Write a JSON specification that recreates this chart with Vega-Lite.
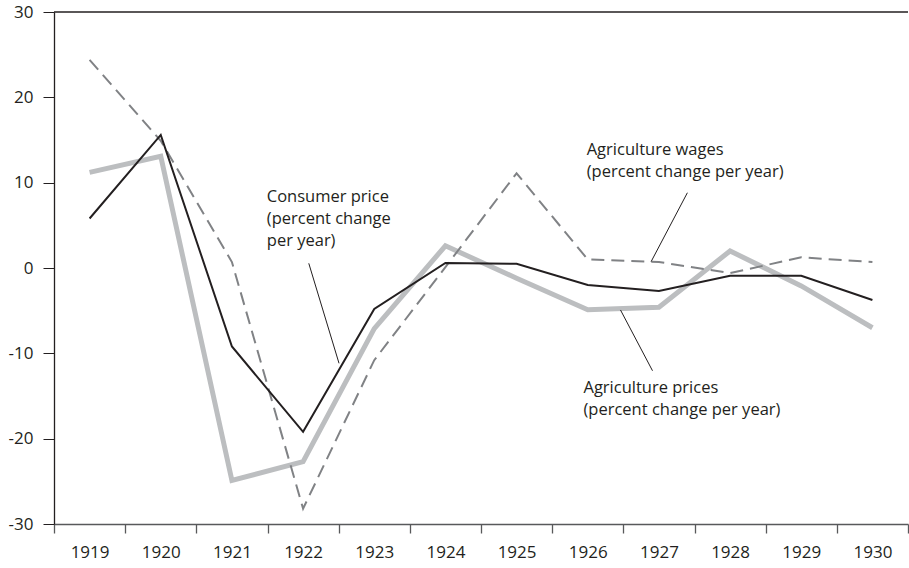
{
  "$schema": "https://vega.github.io/schema/vega-lite/v6.json",
  "autosize": {"type": "none"},
  "width": 854,
  "height": 512,
  "padding": {"left": 54, "top": 12, "right": 1, "bottom": 44},
  "background": "white",
  "config": {
    "view": {"stroke": null},
    "axis": {"labelFont": "Open Sans", "labelFontSize": 17, "labelColor": "#231f20", "domainColor": "#231f20", "tickColor": "#231f20", "grid": false, "title": null}
  },
  "datasets": {
    "series": [
      {"year": 1919, "series": "consumer", "value": 5.8},
      {"year": 1920, "series": "consumer", "value": 15.6},
      {"year": 1921, "series": "consumer", "value": -9.2},
      {"year": 1922, "series": "consumer", "value": -19.2},
      {"year": 1923, "series": "consumer", "value": -4.8},
      {"year": 1924, "series": "consumer", "value": 0.6},
      {"year": 1925, "series": "consumer", "value": 0.5},
      {"year": 1926, "series": "consumer", "value": -2.0},
      {"year": 1927, "series": "consumer", "value": -2.7},
      {"year": 1928, "series": "consumer", "value": -0.9},
      {"year": 1929, "series": "consumer", "value": -0.9},
      {"year": 1930, "series": "consumer", "value": -3.75},
      {"year": 1919, "series": "prices", "value": 11.2},
      {"year": 1920, "series": "prices", "value": 13.1},
      {"year": 1921, "series": "prices", "value": -24.9},
      {"year": 1922, "series": "prices", "value": -22.7},
      {"year": 1923, "series": "prices", "value": -7.1},
      {"year": 1924, "series": "prices", "value": 2.6},
      {"year": 1925, "series": "prices", "value": -1.2},
      {"year": 1926, "series": "prices", "value": -4.9},
      {"year": 1927, "series": "prices", "value": -4.6},
      {"year": 1928, "series": "prices", "value": 2.0},
      {"year": 1929, "series": "prices", "value": -2.1},
      {"year": 1930, "series": "prices", "value": -7.0},
      {"year": 1919, "series": "wages", "value": 24.4},
      {"year": 1920, "series": "wages", "value": 14.9},
      {"year": 1921, "series": "wages", "value": 0.7},
      {"year": 1922, "series": "wages", "value": -28.2},
      {"year": 1923, "series": "wages", "value": -10.8},
      {"year": 1924, "series": "wages", "value": 0.1},
      {"year": 1925, "series": "wages", "value": 11.1},
      {"year": 1926, "series": "wages", "value": 1.0},
      {"year": 1927, "series": "wages", "value": 0.7},
      {"year": 1928, "series": "wages", "value": -0.6},
      {"year": 1929, "series": "wages", "value": 1.25},
      {"year": 1930, "series": "wages", "value": 0.7}
    ],
    "labels": [
      {"x": 1921.49, "y": 7.79, "label": ["Consumer price", "(percent change", "per year)"]},
      {"x": 1925.985, "y": 13.24, "label": ["Agriculture wages", "(percent change per year)"]},
      {"x": 1925.94, "y": -14.68, "label": ["Agriculture prices", "(percent change per year)"]}
    ],
    "pointers": [
      {"x": 1922.08, "y": 0.55, "x2": 1922.505, "y2": -11.17},
      {"x": 1927.40, "y": 8.82, "x2": 1926.89, "y2": 0.74},
      {"x": 1926.46, "y": -4.92, "x2": 1926.91, "y2": -12.04}
    ],
    "frame": [{"top": 30}],
    "bounds": [
      {"b": 1918.5}, {"b": 1919.5}, {"b": 1920.5}, {"b": 1921.5}, {"b": 1922.5}, {"b": 1923.5}, {"b": 1924.5}, {"b": 1925.5}, {"b": 1926.5}, {"b": 1927.5}, {"b": 1928.5}, {"b": 1929.5}, {"b": 1930.5}
    ]
  },
  "layer": [
    {
      "data": {"name": "series"},
      "transform": [{"filter": "datum.series == 'prices'"}],
      "mark": {"type": "line", "color": "#bcbec0", "strokeWidth": 5, "strokeJoin": "miter"},
      "encoding": {
        "x": {"field": "year", "type": "quantitative", "scale": {"domain": [1918.5, 1930.5], "nice": false, "zero": false},
          "axis": {"orient": "bottom", "values": [1919, 1920, 1921, 1922, 1923, 1924, 1925, 1926, 1927, 1928, 1929, 1930], "format": "d", "ticks": false, "labelPadding": 20, "domainColor": "#58595b", "domainWidth": 1.5}},
        "y": {"field": "value", "type": "quantitative", "scale": {"domain": [-30, 30], "nice": false},
          "axis": {"values": [-30, -20, -10, 0, 10, 20, 30], "labelExpr": "'' + datum.value", "tickSize": 11, "labelPadding": 10, "domainWidth": 1.3}}
      }
    },
    {
      "data": {"name": "series"},
      "transform": [{"filter": "datum.series == 'wages'"}],
      "mark": {"type": "line", "color": "#808285", "strokeWidth": 2, "strokeDash": [13, 7]},
      "encoding": {
        "x": {"field": "year", "type": "quantitative", "axis": null},
        "y": {"field": "value", "type": "quantitative"}
      }
    },
    {
      "data": {"name": "series"},
      "transform": [{"filter": "datum.series == 'consumer'"}],
      "mark": {"type": "line", "color": "#231f20", "strokeWidth": 2},
      "encoding": {
        "x": {"field": "year", "type": "quantitative", "axis": null},
        "y": {"field": "value", "type": "quantitative"}
      }
    },
    {
      "data": {"name": "pointers"},
      "mark": {"type": "rule", "color": "#231f20", "strokeWidth": 1},
      "encoding": {
        "x": {"field": "x", "type": "quantitative", "axis": null},
        "y": {"field": "y", "type": "quantitative"},
        "x2": {"field": "x2"},
        "y2": {"field": "y2"}
      }
    },
    {
      "data": {"name": "labels"},
      "mark": {"type": "text", "align": "left", "baseline": "alphabetic", "font": "Open Sans", "fontSize": 16.5, "lineHeight": 22, "color": "#231f20"},
      "encoding": {
        "x": {"field": "x", "type": "quantitative", "axis": null},
        "y": {"field": "y", "type": "quantitative"},
        "text": {"field": "label"}
      }
    },
    {
      "data": {"name": "frame"},
      "mark": {"type": "rule", "color": "#231f20", "strokeWidth": 1.3},
      "encoding": {
        "y": {"field": "top", "type": "quantitative"}
      }
    },
    {
      "data": {"name": "bounds"},
      "mark": {"type": "point", "opacity": 0},
      "encoding": {
        "x": {"field": "b", "type": "quantitative",
          "axis": {"orient": "bottom", "values": [1918.5, 1919.5, 1920.5, 1921.5, 1922.5, 1923.5, 1924.5, 1925.5, 1926.5, 1927.5, 1928.5, 1929.5, 1930.5], "labels": false, "domain": false, "ticks": true, "tickSize": 9, "tickColor": "#58595b", "tickWidth": 1.3}},
        "y": {"datum": 0, "type": "quantitative"}
      }
    }
  ],
  "resolve": {"axis": {"x": "independent"}}
}
